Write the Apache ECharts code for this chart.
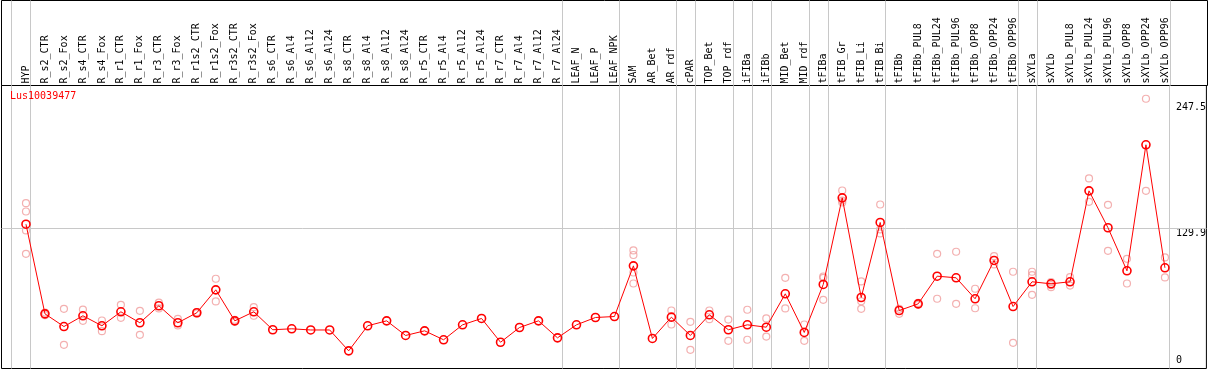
<!DOCTYPE html>
<html>
<head>
<meta charset="utf-8">
<script src="https://cdn.jsdelivr.net/npm/echarts@6/dist/echarts.min.js"></script>
<style>
html,body{margin:0;padding:0;background:#fff;}
#chart{width:1209px;height:370px;}
</style>
</head>
<body>
<div id="chart"></div>
<script>
const geneId = 'Lus10039477';
const categories = ['HYP','R_s2_CTR','R_s2_Fox','R_s4_CTR','R_s4_Fox','R_r1_CTR','R_r1_Fox','R_r3_CTR','R_r3_Fox','R_r1s2_CTR','R_r1s2_Fox','R_r3s2_CTR','R_r3s2_Fox','R_s6_CTR','R_s6_Al4','R_s6_Al12','R_s6_Al24','R_s8_CTR','R_s8_Al4','R_s8_Al12','R_s8_Al24','R_r5_CTR','R_r5_Al4','R_r5_Al12','R_r5_Al24','R_r7_CTR','R_r7_Al4','R_r7_Al12','R_r7_Al24','LEAF_N','LEAF_P','LEAF_NPK','SAM','AR_Bet','AR_rdf','cPAR','TOP_Bet','TOP_rdf','iFIBa','iFIBb','MID_Bet','MID_rdf','tFIBa','tFIB_Gr','tFIB_Li','tFIB_Bi','tFIBb','tFIBb_PUL8','tFIBb_PUL24','tFIBb_PUL96','tFIBb_OPP8','tFIBb_OPP24','tFIBb_OPP96','sXYLa','sXYLb','sXYLb_PUL8','sXYLb_PUL24','sXYLb_PUL96','sXYLb_OPP8','sXYLb_OPP24','sXYLb_OPP96'];
// number of categories in each group (separated by vertical grey lines)
const groupSizes = [1, 28, 3, 3, 1, 2, 1, 1, 2, 1, 3, 7, 1, 7];
const meanValues = [134.1,50.8,39.0,49.0,39.7,52.7,42.5,58.3,42.5,51.8,73.1,44.3,52.7,36.0,36.9,35.8,35.8,16.4,39.7,44.3,30.7,35.0,26.7,40.6,46.5,24.4,38.1,44.3,28.5,40.6,47.4,48.3,95.4,27.9,47.7,30.7,49.9,36.0,40.6,38.4,69.4,33.5,78.1,158.6,66.0,135.7,53.9,60.1,85.8,84.3,64.8,100.4,57.6,80.6,78.7,80.6,165.1,130.8,90.8,207.9,93.6];
const rep1 = [153.6,52.0,55.5,54.8,44.6,59.2,53.6,61.3,46.2,52.5,83.4,45.3,57.0,null,null,null,null,null,null,null,null,null,null,null,null,null,null,null,null,null,null,null,109.7,null,53.9,43.4,53.9,45.5,54.6,46.5,84.3,40.9,85.5,165.4,80.9,152.4,55.5,60.9,106.6,108.5,74.1,104.4,89.9,89.9,80.2,84.9,176.6,152.1,101.9,250.7,103.2];
const rep2 = [145.9,49.6,22.0,44.3,34.7,47.1,31.3,55.8,40.0,51.1,62.3,43.4,49.0,null,null,null,null,null,null,null,null,null,null,null,null,null,null,null,null,null,null,null,105.5,null,40.9,17.4,45.8,25.7,26.7,29.7,55.8,25.7,84.3,156.1,62.5,129.2,50.8,59.2,64.8,60.1,56.0,96.7,23.9,86.7,77.4,77.1,154.9,109.4,79.0,165.1,84.6];
const rep3 = [128.3,null,null,null,null,null,null,null,null,null,null,null,null,null,null,null,null,null,null,null,null,null,null,null,null,null,null,null,null,null,null,null,89.2,null,null,null,null,null,null,null,null,null,63.8,154.3,55.5,125.5,null,null,null,null,null,null,null,68.5,75.6,null,null,null,null,null,null];
const rep4 = [106.6,null,null,null,null,null,null,null,null,null,null,null,null,null,null,null,null,null,null,null,null,null,null,null,null,null,null,null,null,null,null,null,79.0,null,null,null,null,null,null,null,null,null,null,null,null,null,null,null,null,null,null,null,null,null,null,null,null,null,null,null,null];
const yTickTop = [129.9, 247.5];
const yTickBottom = [0];
const yMin = 0, yMax = 263;

// layout constants (pixels)
const PX_LEFT = 1.5, PX_RIGHT_EDGE = 1207.5, CAT_STEP = 19, FIRST_X = 26;
const xMin = -(FIRST_X - PX_LEFT) / CAT_STEP;
const xMax = xMin + (PX_RIGHT_EDGE - PX_LEFT) / CAT_STEP;
const sepOffset = 4.5 / CAT_STEP;

const sepPositions = [-1 + sepOffset];
let acc = 0;
groupSizes.forEach(g => { acc += g; sepPositions.push(acc - 1 + sepOffset); });

const font = 'DejaVu Sans Mono';
const greyLine = {color: '#c8c8c8', width: 1, type: 'solid'};
const vLines = sepPositions.map(x => ({xAxis: x}));

const repColor = '#f09c9c';
function repSeries(arr){
  return {
    type: 'scatter', xAxisIndex: 0, yAxisIndex: 0,
    data: arr.map((v, i) => v == null ? null : [i, v]).filter(d => d),
    symbol: 'circle', symbolSize: 7,
    itemStyle: {color: 'rgba(0,0,0,0)', borderColor: repColor, borderWidth: 1.2},
    silent: true, z: 2
  };
}

const yLabelBase = {inside: true, margin: 30.5, align: 'left', color: '#000', fontFamily: font, fontSize: 10, lineHeight: 10, formatter: v => String(v)};

const chart = echarts.init(document.getElementById('chart'), null, {renderer: 'canvas'});
chart.setOption({
  animation: false,
  backgroundColor: '#fff',
  title: {
    text: geneId, left: 10, top: 91, padding: 0,
    textStyle: {color: '#ff0000', fontFamily: font, fontSize: 10, fontWeight: 'normal'}
  },
  grid: [
    {left: PX_LEFT, right: 1209 - PX_RIGHT_EDGE, top: 85.5, bottom: 1.5, show: true, borderColor: '#000', borderWidth: 1, backgroundColor: 'transparent'},
    {left: PX_LEFT, right: 1209 - PX_RIGHT_EDGE, top: 0.5, height: 85, show: true, borderColor: '#000', borderWidth: 1, backgroundColor: 'transparent'}
  ],
  xAxis: [
    {
      type: 'value', gridIndex: 0, position: 'top', min: xMin, max: xMax,
      axisLine: {show: false}, axisTick: {show: false}, splitLine: {show: false},
      axisLabel: {
        customValues: categories.map((c, i) => i),
        formatter: v => categories[Math.round(v)] || '',
        rotate: 90, margin: 2, color: '#000', fontFamily: font, fontSize: 10
      }
    },
    {
      type: 'value', gridIndex: 1, min: xMin, max: xMax, show: false
    }
  ],
  yAxis: [
    {
      type: 'value', gridIndex: 0, position: 'right', min: yMin, max: yMax,
      axisLine: {show: false}, axisTick: {show: false}, splitLine: {show: false},
      axisLabel: Object.assign({}, yLabelBase, {customValues: yTickTop, verticalAlign: 'top'})
    },
    {
      type: 'value', gridIndex: 0, position: 'right', min: yMin, max: yMax,
      axisLine: {show: false}, axisTick: {show: false}, splitLine: {show: false},
      axisLabel: Object.assign({}, yLabelBase, {customValues: yTickBottom, verticalAlign: 'bottom', padding: [0, 0, 3, 0]})
    },
    {type: 'value', gridIndex: 1, min: 0, max: 1, show: false}
  ],
  series: [
    {
      type: 'scatter', xAxisIndex: 1, yAxisIndex: 2, data: [], silent: true,
      markLine: {silent: true, symbol: ['none', 'none'], label: {show: false}, lineStyle: greyLine, data: vLines, animation: false}
    },
    {
      type: 'scatter', xAxisIndex: 0, yAxisIndex: 0, data: [], silent: true, z: 1,
      markLine: {silent: true, symbol: ['none', 'none'], label: {show: false}, lineStyle: greyLine,
        data: vLines.concat([{yAxis: yTickTop[0]}]), animation: false}
    },
    repSeries(rep1), repSeries(rep2), repSeries(rep3), repSeries(rep4),
    {
      type: 'line', xAxisIndex: 0, yAxisIndex: 0, z: 5,
      data: meanValues.map((v, i) => [i, v]),
      symbol: 'circle', symbolSize: 8,
      lineStyle: {color: '#ff0000', width: 1},
      itemStyle: {color: 'rgba(0,0,0,0)', borderColor: '#ff0000', borderWidth: 1.6},
      silent: true
    }
  ]
});
</script>
</body>
</html>
